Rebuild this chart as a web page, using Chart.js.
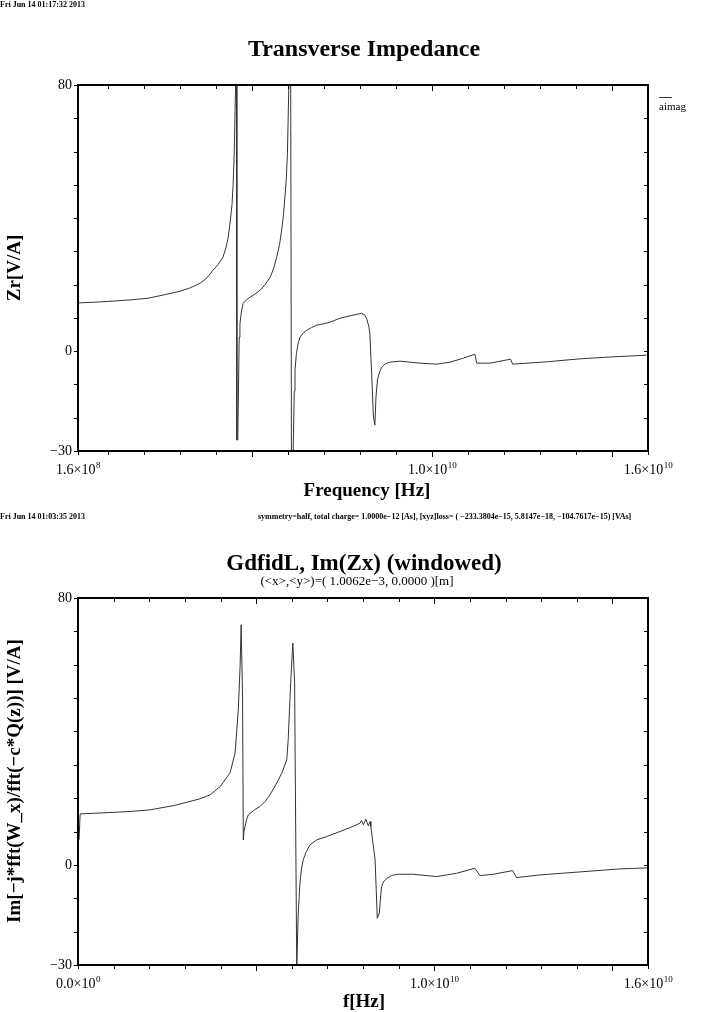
<!DOCTYPE html>
<html>
<head>
<meta charset="utf-8">
<script src="https://cdn.jsdelivr.net/npm/chart.js@4.4.1/dist/chart.umd.min.js"></script>
<style>
  html, body { margin: 0; padding: 0; background: #fff; }
  #page { position: relative; width: 715px; height: 1012px; font-family: "Liberation Serif", "DejaVu Serif", serif; color: #000; overflow: hidden; }
  .c { position: absolute; left: 0; width: 715px; height: 506px; }
  .t { position: absolute; white-space: nowrap; transform: translate(-50%, -50%); }
  .hdr { position: absolute; white-space: nowrap; font-size: 8px; font-weight: bold; }
  .big { font-weight: bold; }
  .rot { transform: translate(-50%, -50%) rotate(-90deg); }
</style>
</head>
<body>
<div id="page">
  <div class="c" style="top:0"><canvas id="topChart" width="715" height="506"></canvas></div>
  <div class="c" style="top:506px"><canvas id="botChart" width="715" height="506"></canvas></div>

  <div class="hdr" style="left:0;top:0">Fri Jun 14 01:17:32 2013</div>
  <div class="t big" style="left:364px;top:48px;font-size:24px">Transverse Impedance</div>
  <div class="t big rot" style="left:14px;top:268px;font-size:19px">Zr[V/A]</div>
  <div class="t big" style="left:367px;top:490px;font-size:19px">Frequency [Hz]</div>
  <div style="position:absolute;left:659px;top:97px;width:13px;border-top:1px solid #333"></div>
  <div style="position:absolute;left:659px;top:100px;font-size:11px">aimag</div>

  <div class="hdr" style="left:0;top:512px">Fri Jun 14 01:03:35 2013</div>
  <div class="hdr" style="left:258px;top:512px">symmetry=half, total charge= 1.0000e&minus;12 [As], [xyz]loss= ( &minus;233.3804e&minus;15, 5.8147e&minus;18, &minus;104.7617e&minus;15) [VAs]</div>
  <div class="t big" style="left:364px;top:563px;font-size:23px">GdfidL, Im(Zx) (windowed)</div>
  <div class="t" style="left:357px;top:581px;font-size:13px">(&lt;x&gt;,&lt;y&gt;)=( 1.0062e&minus;3, 0.0000 )[m]</div>
  <div class="t big rot" style="left:14px;top:781px;font-size:19px">Im[&minus;j*fft(W_x)/fft(&minus;c*Q(z))] [V/A]</div>
  <div class="t big" style="left:364px;top:1001px;font-size:19px">f[Hz]</div>
</div>

<script>
// ---- data (frequency in GHz, impedance in V/A) ----
const topFreq = [0.16, 0.77, 1.60, 2.10, 2.58, 2.99, 3.27, 3.55, 3.74, 3.91, 4.05, 4.19, 4.27, 4.33, 4.38, 4.44, 4.47, 4.50, 4.54, 4.556, 4.575,
  4.60, 4.64, 4.66, 4.68, 4.72, 4.75, 4.85, 4.94, 5.08, 5.22, 5.36, 5.50, 5.60, 5.68, 5.76, 5.82, 5.87, 5.91, 5.95, 5.98, 6.02, 6.05, 6.10,
  6.14, 6.17, 6.19, 6.23, 6.28, 6.33, 6.42, 6.52, 6.65, 6.79, 7.00, 7.16, 7.44, 7.75, 8.04, 8.12, 8.18, 8.24, 8.27, 8.32, 8.37, 8.41, 8.44, 8.48,
  8.54, 8.60, 8.70, 8.83, 9.11, 9.66, 10.13, 10.50, 10.87, 11.19, 11.24, 11.61, 12.18, 12.24, 13.18, 14.11, 15.03, 15.96];
const topZ = [14.5, 14.8, 15.4, 15.9, 17.0, 18.0, 19.0, 20.4, 22.0, 24.3, 26.0, 28.3, 31.0, 34.0, 38.0, 44.0, 50.0, 59.0, 80.0, 200, -26.7,
  -26.7, 4.2, 8.0, 10.2, 13.0, 14.4, 15.5, 16.2, 17.2, 18.3, 20.0, 22.2, 25.0, 28.2, 32.0, 36.4, 41.0, 46.3, 52.0, 59.5, 80.0, 200, -80,
  -29.7, -12.0, -5.7, -0.6, 2.5, 4.2, 5.5, 6.3, 7.1, 7.8, 8.3, 8.7, 9.9, 10.7, 11.4, 11.0, 9.9, 7.5, 5.4, -6.6, -19.8, -22.2, -13.8, -8.7,
  -6.3, -4.8, -3.8, -3.3, -3.0, -3.6, -3.9, -3.3, -2.1, -0.9, -3.6, -3.6, -2.4, -3.9, -3.2, -2.3, -1.7, -1.2];

const botFreq = [0.03, 0.06, 0.50, 1.46, 2.02, 2.70, 3.42, 3.71, 3.99, 4.27, 4.41, 4.50, 4.55, 4.58, 4.62, 4.64,
  4.66, 4.69, 4.73, 4.78, 4.95, 5.11, 5.25, 5.39, 5.58, 5.72, 5.86, 5.90, 5.97, 6.03, 6.08, 6.14,
  6.18, 6.23, 6.27, 6.32, 6.41, 6.51, 6.70, 6.98, 7.35, 7.64, 7.92, 7.96, 8.01, 8.08, 8.15, 8.20, 8.22, 8.34,
  8.40, 8.46, 8.49, 8.52, 8.58, 8.67, 8.80, 8.95, 9.41, 10.07, 10.63, 11.14, 11.28, 11.66, 12.20, 12.31, 12.97, 14.09, 15.21, 15.97];
const botZ = [7.5, 15.3, 15.5, 16.0, 16.5, 17.8, 19.8, 21.0, 23.5, 27.6, 33.6, 46.5, 59.5, 72.0, 49.5, 7.5,
  10.0, 11.5, 13.5, 15.0, 16.5, 17.5, 19.0, 21.0, 24.6, 27.5, 31.5, 37.5, 54.6, 66.5, 54.6, -31,
  -15.0, -5.4, -1.5, 1.5, 4.0, 6.0, 7.5, 8.5, 10.0, 11.2, 12.5, 13.3, 12.0, 13.7, 11.7, 13.0, 11.5, 1.5,
  -16.0, -14.4, -10.0, -6.5, -5.0, -4.0, -3.2, -2.8, -2.8, -3.5, -2.5, -1.0, -3.2, -2.8, -1.7, -3.8, -3.0, -2.1, -1.2, -0.9];

// ---- axes ----
const yTicks = [80, 70, 60, 50, 40, 30, 20, 10, 0, -10, -20, -30];
const yLabels = [80, 0, -30];
const topXTicks = [0.16, 1, 2, 3, 4, 5, 6, 7, 8, 9, 10, 11, 12, 13, 14, 15, 16];
const botXTicks = [0, 1, 2, 3, 4, 5, 6, 7, 8, 9, 10, 11, 12, 13, 14, 15, 16];
const xMajor = [5, 10, 15];
const topXLabelVals = [0.16, 10, 16];
const botXLabelVals = [0, 10, 16];
const xLabelMant = ['1.6', '1.0', '1.6'];
const topXLabelExp = ['8', '10', '10'];
const botXLabelMant = ['0.0', '1.0', '1.6'];
const botXLabelExp = ['0', '10', '10'];

const FONT = '"Liberation Serif", "DejaVu Serif", serif';

// frame, inward/outward tick marks and tick labels
const framePlugin = {
  id: 'frame',
  afterDatasetsDraw(chart, args, opts) {
    const { ctx, chartArea: a, scales: { x, y } } = chart;
    ctx.save();
    ctx.strokeStyle = '#000';
    ctx.lineWidth = 1;
    ctx.beginPath();
    opts.xTicks.forEach(v => {
      const px = Math.round(x.getPixelForValue(v)) + 0.5;
      const len = xMajor.includes(v) ? 5 : 3;
      ctx.moveTo(px, a.bottom); ctx.lineTo(px, a.bottom + len + 1);
      ctx.moveTo(px, a.top); ctx.lineTo(px, a.top + len + 1);
    });
    yTicks.forEach(v => {
      const py = Math.round(y.getPixelForValue(v)) + 0.5;
      ctx.moveTo(a.left - 4, py); ctx.lineTo(a.left, py);
      ctx.moveTo(a.right - 4, py); ctx.lineTo(a.right, py);
    });
    ctx.stroke();
    ctx.lineWidth = 2;
    ctx.strokeRect(a.left, a.top, a.right - a.left, a.bottom - a.top);

    ctx.fillStyle = '#000';
    ctx.font = '14px ' + FONT;
    ctx.textAlign = 'right';
    ctx.textBaseline = 'middle';
    yLabels.forEach(v => {
      const s = v < 0 ? '\u2212' + Math.abs(v) : String(v);
      ctx.fillText(s, a.left - 6, y.getPixelForValue(v));
    });

    ctx.textBaseline = 'alphabetic';
    ctx.textAlign = 'left';
    opts.labelVals.forEach((v, i) => {
      const m = opts.mant[i] + '\u00d710';
      const e = opts.exp[i];
      ctx.font = '14px ' + FONT;
      const wm = ctx.measureText(m).width;
      ctx.font = '9px ' + FONT;
      const we = ctx.measureText(e).width;
      const px = x.getPixelForValue(v) - (wm + we) / 2;
      const base = a.bottom + 23;
      ctx.font = '14px ' + FONT;
      ctx.fillText(m, px, base);
      ctx.font = '9px ' + FONT;
      ctx.fillText(e, px + wm + 0.5, base - 6);
    });
    ctx.restore();
  }
};

function makeChart(id, freq, vals, xMin, xTicks, labelVals, mant, exp) {
  const ctx = document.getElementById(id);
  return new Chart(ctx, {
    type: 'line',
    data: {
      datasets: [{
        label: 'aimag',
        data: freq.map((f, i) => ({ x: f, y: vals[i] })),
        borderColor: '#333',
        borderWidth: 1,
        pointRadius: 0,
        tension: 0,
        fill: false
      }]
    },
    options: {
      responsive: false,
      animation: false,
      events: [],
      layout: { padding: { top: opts.top, right: 67, bottom: 0, left: 0 } },
      plugins: {
        legend: { display: false },
        tooltip: { enabled: false },
        frame: { xTicks: xTicks, labelVals: labelVals, mant: mant, exp: exp }
      },
      scales: {
        x: {
          type: 'linear', min: xMin, max: 16,
          grid: { display: false }, border: { display: false },
          ticks: { display: false },
          afterFit: s => { s.height = opts.bottom; }
        },
        y: {
          type: 'linear', min: -30, max: 80,
          grid: { display: false }, border: { display: false },
          ticks: { display: false },
          afterFit: s => { s.width = 78; }
        }
      }
    },
    plugins: [framePlugin]
  });
}

const opts = { top: 85, bottom: 55 };
makeChart('topChart', topFreq, topZ, 0.16, topXTicks, topXLabelVals, xLabelMant, topXLabelExp);
opts.top = 92; opts.bottom = 47;
makeChart('botChart', botFreq, botZ, 0, botXTicks, botXLabelVals, botXLabelMant, botXLabelExp);
</script>
</body>
</html>
